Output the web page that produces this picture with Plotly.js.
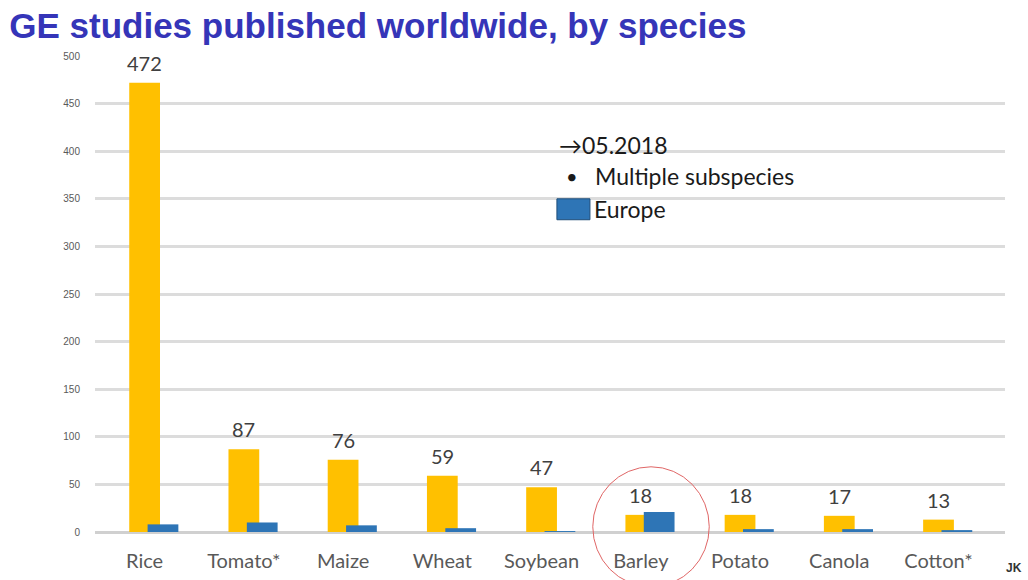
<!DOCTYPE html>
<html>
<head>
<meta charset="utf-8">
<script src="https://cdn.plot.ly/plotly-3.0.1.min.js"></script>
<style>html,body{margin:0;padding:0;background:#fff;}#chart{width:1028px;height:580px;}</style>
</head>
<body>
<div id="chart"></div>
<script>
const species = ["Rice", "Tomato*", "Maize", "Wheat", "Soybean", "Barley", "Potato", "Canola", "Cotton*"];
const worldwide = [472, 87, 76, 59, 47, 18, 18, 17, 13];
const europe = [8, 10, 7, 4, 1, 21, 3, 3, 2];
const yTicks = [0, 50, 100, 150, 200, 250, 300, 350, 400, 450, 500];

const idx = species.map((_, i) => i);
const labelFont = {family: "Lato, 'Open Sans', sans-serif", size: 20, color: "#404040"};

const traces = [
  {
    type: "bar", x: idx, y: worldwide, name: "Worldwide",
    marker: {color: "#ffc000"},
    width: 0.31, offset: -0.155,
    hoverinfo: "x+y"
  },
  {
    type: "bar", x: idx, y: europe, name: "Europe",
    marker: {color: "#2e75b6"},
    width: 0.31, offset: 0.03,
    hoverinfo: "x+y"
  }
];

const valueLabels = idx.map(i => ({
  xref: "x", yref: "y", x: i, y: worldwide[i], xanchor: "center", yanchor: "bottom",
  yshift: 6, text: String(worldwide[i]), showarrow: false, font: labelFont
}));

const layout = {
  width: 1028, height: 580,
  margin: {l: 95, r: 23, t: 56, b: 48},
  paper_bgcolor: "#ffffff", plot_bgcolor: "#ffffff",
  barmode: "overlay",
  showlegend: false,
  font: {family: "Lato, 'Open Sans', sans-serif", color: "#595959"},
  title: {
    text: "<b>GE studies published worldwide, by species</b>",
    x: 0.009, xanchor: "left", xref: "container", y: 0.955, yanchor: "middle", yref: "container",
    font: {family: "'Liberation Sans', Arial, sans-serif", size: 35, color: "#3535b8"}
  },
  xaxis: {
    range: [-0.5, 8.67],
    tickmode: "array", tickvals: idx, ticktext: species,
    tickfont: {family: "Lato, 'Open Sans', sans-serif", size: 20, color: "#595959"},
    showgrid: false, zeroline: false, showline: false, ticks: "",
    ticklabelstandoff: 15
  },
  yaxis: {
    range: [0, 500],
    tickmode: "array", tickvals: yTicks,
    tickfont: {family: "'Liberation Sans', Arial, sans-serif", size: 10, color: "#595959"},
    showgrid: true, gridcolor: "#dcdcdc", gridwidth: 3,
    zeroline: true, zerolinecolor: "#d0d0d0", zerolinewidth: 3,
    ticks: "", ticklabelstandoff: 14
  },
  shapes: [
    {type: "circle", xref: "paper", yref: "paper", x0: 0.547, x1: 0.675, y0: -0.115, y1: 0.137,
     line: {color: "#e06666", width: 1}, fillcolor: "rgba(0,0,0,0)", layer: "above"},
    {type: "rect", xref: "paper", yref: "paper", x0: 0.5076, x1: 0.5439, y0: 0.656, y1: 0.7,
     line: {color: "#1f4e79", width: 1}, fillcolor: "#2e75b6"}
  ],
  annotations: valueLabels.concat([
    {xref: "paper", yref: "paper", x: 0.508, y: 0.812, xanchor: "left", yanchor: "middle",
     text: "→05.2018", showarrow: false,
     font: {family: "Lato, 'Open Sans', sans-serif", size: 23, color: "#1a1a1a"}},
    {xref: "paper", yref: "paper", x: 0.515, y: 0.747, xanchor: "left", yanchor: "middle",
     text: "•", showarrow: false,
     font: {family: "Lato, 'Open Sans', sans-serif", size: 20, color: "#1a1a1a"}},
    {xref: "paper", yref: "paper", x: 0.547, y: 0.747, xanchor: "left", yanchor: "middle",
     text: "Multiple subspecies", showarrow: false,
     font: {family: "Lato, 'Open Sans', sans-serif", size: 23, color: "#1a1a1a"}},
    {xref: "paper", yref: "paper", x: 0.546, y: 0.678, xanchor: "left", yanchor: "middle",
     text: "Europe", showarrow: false,
     font: {family: "Lato, 'Open Sans', sans-serif", size: 23, color: "#1a1a1a"}},
    {xref: "paper", yref: "paper", x: 0.999, y: -0.075, xanchor: "left", yanchor: "middle",
     text: "<b>JK</b>", showarrow: false,
     font: {family: "'Liberation Sans', Arial, sans-serif", size: 12, color: "#333333"}}
  ])
};

Plotly.newPlot("chart", traces, layout, {displayModeBar: false, staticPlot: true});
</script>
</body>
</html>
